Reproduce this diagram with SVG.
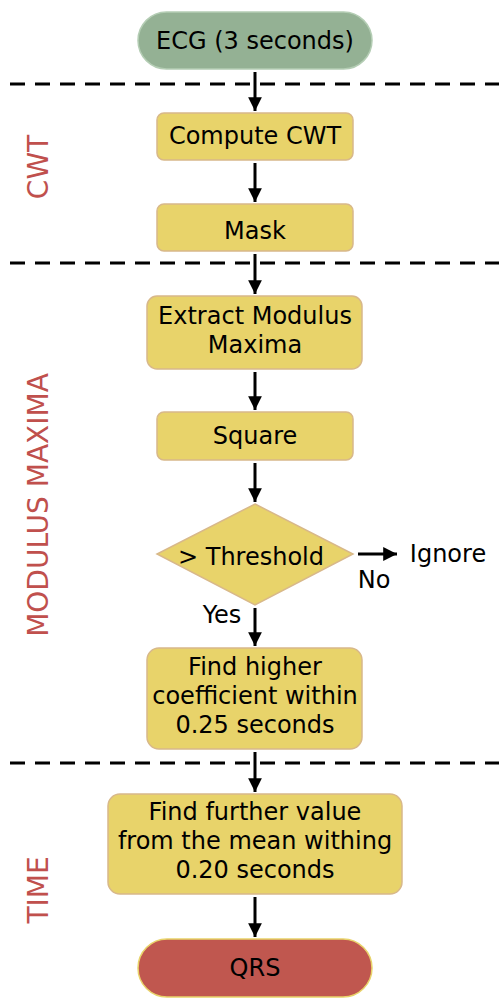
<svg xmlns="http://www.w3.org/2000/svg" width="499" height="1000" viewBox="0 0 499 1000">
<style>
text{font-family:"DejaVu Sans",sans-serif;font-size:24px;fill:#000;text-anchor:middle;dominant-baseline:central}
.box{fill:#e8d36a;stroke:#d8b88a;stroke-width:1.5}
.lbl{fill:#c0504d;font-size:28px}
.dash{stroke:#000;stroke-width:3;stroke-dasharray:15 10;fill:none}
.ar{stroke:#000;stroke-width:3;fill:none;marker-end:url(#ah)}
</style>
<defs>
<marker id="ah" viewBox="0 0 10 10" refX="10" refY="5" markerWidth="5.2" markerHeight="4.6" orient="auto" markerUnits="strokeWidth">
<path d="M0,0 L10,5 L0,10 z" fill="#000"/>
</marker>
</defs>
<g id="separators">
<line class="dash" x1="10" y1="84" x2="499" y2="84"/>
<line class="dash" x1="10" y1="263" x2="499" y2="263"/>
<line class="dash" x1="10" y1="763" x2="499" y2="763"/>
</g>
<g id="sections">
<text class="lbl" transform="translate(38,167) rotate(-90)">CWT</text>
<text class="lbl" transform="translate(38,505) rotate(-90)">MODULUS MAXIMA</text>
<text class="lbl" transform="translate(38,890) rotate(-90)">TIME</text>
</g>
<g id="connectors">
<line class="ar" x1="255" y1="72" x2="255" y2="111"/>
<line class="ar" x1="255" y1="163" x2="255" y2="202"/>
<line class="ar" x1="255" y1="254" x2="255" y2="294"/>
<line class="ar" x1="255" y1="372" x2="255" y2="410"/>
<line class="ar" x1="255" y1="463" x2="255" y2="502"/>
<line class="ar" x1="358" y1="554" x2="397" y2="554"/>
<line class="ar" x1="255" y1="608" x2="255" y2="646"/>
<line class="ar" x1="255" y1="752" x2="255" y2="792"/>
<line class="ar" x1="255" y1="897" x2="255" y2="937"/>
<text x="374" y="580">No</text>
<text x="222" y="615">Yes</text>
</g>
<g id="ecg">
<rect x="138" y="12" width="234" height="57" rx="28.5" fill="#94b194" stroke="#b4cdb4" stroke-width="1.5"/>
<text x="255" y="41">ECG (3 seconds)</text>
</g>
<g id="cwt">
<rect class="box" x="157" y="113" width="196" height="47" rx="7"/>
<text x="255" y="136">Compute CWT</text>
</g>
<g id="mask">
<rect class="box" x="157" y="204" width="196" height="47" rx="7"/>
<text x="255" y="231">Mask</text>
</g>
<g id="extract">
<rect class="box" x="147" y="296" width="215" height="73" rx="10"/>
<text x="255" y="316">Extract Modulus</text>
<text x="255" y="345">Maxima</text>
</g>
<g id="square">
<rect class="box" x="157" y="412" width="196" height="48" rx="7"/>
<text x="255" y="436">Square</text>
</g>
<g id="threshold">
<polygon class="box" points="255,504 353,554 255,605 157,554"/>
<text x="251" y="557">&gt; Threshold</text>
</g>
<g id="ignore">
<text x="448" y="554">Ignore</text>
</g>
<g id="higher">
<rect class="box" x="147" y="648" width="215" height="101" rx="12"/>
<text x="255" y="667">Find higher</text>
<text x="255" y="696">coefficient within</text>
<text x="255" y="725">0.25 seconds</text>
</g>
<g id="further">
<rect class="box" x="108" y="794" width="294" height="100" rx="12"/>
<text x="255" y="812">Find further value</text>
<text x="255" y="841">from the mean withing</text>
<text x="255" y="870">0.20 seconds</text>
</g>
<g id="qrs">
<rect x="138" y="939" width="234" height="58" rx="29" fill="#c0574f" stroke="#e8d36a" stroke-width="1.5"/>
<text x="255" y="968">QRS</text>
</g>
</svg>
